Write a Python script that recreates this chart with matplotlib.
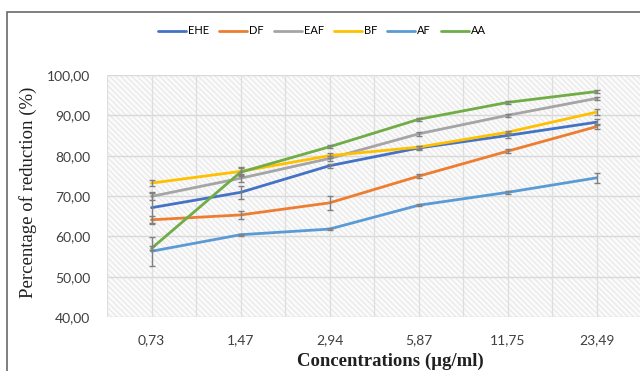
import matplotlib
matplotlib.use("Agg")
import matplotlib.pyplot as plt
from matplotlib.patches import Rectangle
import numpy as np

categories = ["0,73", "1,47", "2,94", "5,87", "11,75", "23,49"]
series_names = ["EHE", "DF", "EAF", "BF", "AF", "AA"]
EHE = [67.1, 70.9, 77.5, 81.9, 85.0, 88.3]
DF = [64.1, 65.3, 68.3, 74.9, 81.1, 87.2]
EAF = [69.9, 74.4, 79.3, 85.4, 90.0, 94.2]
BF = [73.2, 76.1, 80.0, 82.1, 85.8, 90.8]
AF = [56.3, 60.4, 61.8, 67.7, 70.9, 74.5]
AA = [57.0, 75.9, 82.2, 89.0, 93.2, 95.9]
EHE_err = [3.7, 1.7, 0.5, 0.6, 0.5, 0.8]
DF_err = [1.0, 1.0, 1.8, 0.5, 0.5, 0.6]
EAF_err = [1.0, 1.0, 0.6, 0.4, 0.4, 0.4]
BF_err = [0.8, 1.0, 0.6, 0.4, 0.4, 0.7]
AF_err = [3.6, 0.3, 0.3, 0.3, 0.4, 1.2]
AA_err = [0.5, 1.0, 0.4, 0.3, 0.3, 0.3]
colors = ["#4472C4", "#ED7D31", "#A5A5A5", "#FFC000", "#5B9BD5", "#70AD47"]

values = [EHE, DF, EAF, BF, AF, AA]
errors = [EHE_err, DF_err, EAF_err, BF_err, AF_err, AA_err]

plt.rcParams['hatch.linewidth'] = 0.6
sans = ['Lato', 'DejaVu Sans']
serif = ['Liberation Serif', 'DejaVu Serif']

fig = plt.figure(figsize=(6.4, 3.71), dpi=100)
ax = fig.add_axes([107/640, 1-317/371, 534/640, (317-75)/371])

x = np.arange(len(categories))
ax.add_patch(Rectangle((0, 0), 1, 1, transform=ax.transAxes, facecolor='#fafafa',
                       edgecolor='#e2e2e2', linewidth=0, hatch='\\\\\\\\\\\\', zorder=0))
for v in range(40, 101, 10):
    ax.axhline(v, color='#d9d9d9', lw=1.0, zorder=1)
for xv in np.arange(-0.5, 5.6, 0.5):
    ax.axvline(xv, color='#dedede', lw=0.9, zorder=1)

for name, vals, errs, c in zip(series_names, values, errors, colors):
    ax.plot(x, vals, color=c, lw=2.0, label=name, zorder=3, solid_capstyle='round')
    ax.errorbar(x, vals, yerr=errs, fmt='none', ecolor='#808080', elinewidth=1.0,
                capsize=2.5, capthick=1.0, zorder=4)

ax.set_xlim(-0.5, 5.5)
ax.set_ylim(40, 100)
ax.set_xticks(x)
ax.set_xticklabels(categories)
ax.set_yticks(range(40, 101, 10))
ax.set_yticklabels([f"{v},00" for v in range(40, 101, 10)])
ax.tick_params(length=0, labelsize=10, colors='#404040')
ax.tick_params(axis='x', pad=12)
ax.tick_params(axis='y', pad=12)
for lab in ax.get_xticklabels() + ax.get_yticklabels():
    lab.set_family(sans)
for s in ax.spines.values():
    s.set_visible(False)
ax.set_facecolor('white')

fig.text(28/640, 1-192/371, "Percentage of reduction (%)", rotation=90, ha='center', va='center',
         fontsize=13.5, family=serif, color='#202020')
fig.text(390/640, 1-361/371, "Concentrations (\u00b5g/ml)", ha='center', va='center',
         fontsize=13.5, fontweight='bold', family=serif, color='#202020')

handles, labels = ax.get_legend_handles_labels()
leg = fig.legend(handles, labels, loc='center', bbox_to_anchor=(322/640, 1-31/371), ncol=6,
                 frameon=False, handlelength=2.5, columnspacing=0.9,
                 handletextpad=0.2, prop={'family': sans, 'size': 8})

fig.patches.append(Rectangle((7/640, -0.1), 1.1, 1-12/371+0.1, transform=fig.transFigure,
                             fill=False, edgecolor='#6a6a6a', lw=1.2, figure=fig))

fig.savefig("out.png", dpi=100)
